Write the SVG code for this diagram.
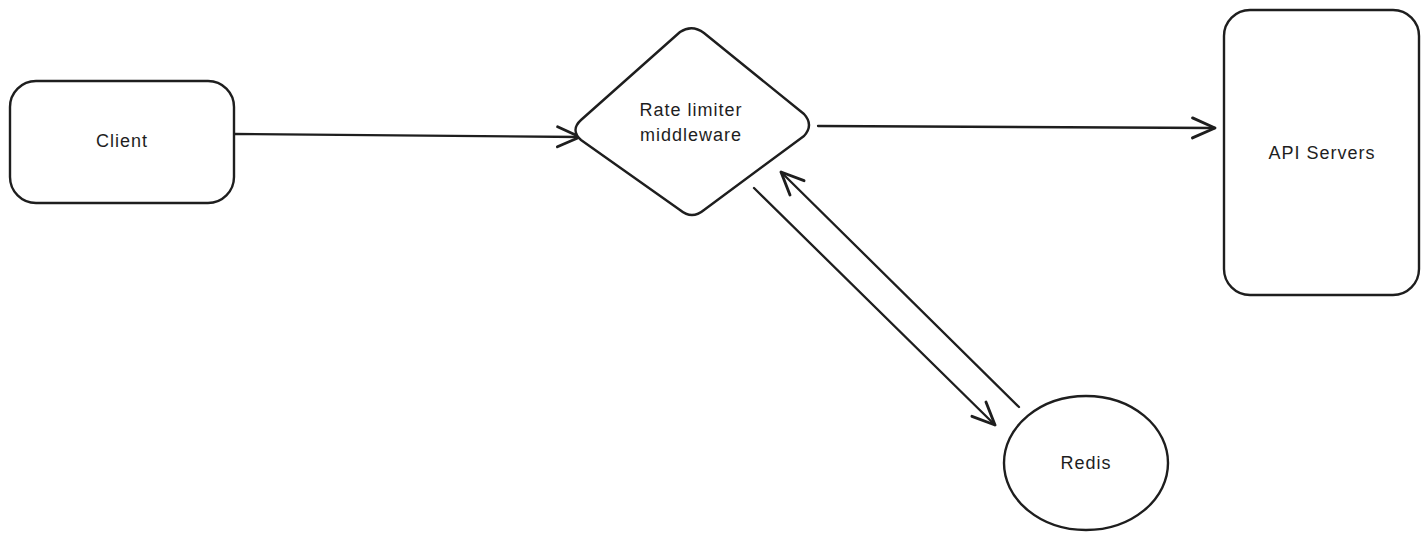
<svg xmlns="http://www.w3.org/2000/svg" width="1428" height="540" viewBox="0 0 1428 540">
<style>
.shape{fill:#ffffff;stroke:#1e1e1e;stroke-width:2.4;stroke-linejoin:round}
.conn{fill:none;stroke:#1e1e1e;stroke-width:2.3;stroke-linecap:round}
.lbl{font-family:"Liberation Sans","Open Sans",sans-serif;font-size:18px;letter-spacing:1px;fill:#1e1e1e;text-anchor:middle;dominant-baseline:central}
</style>
<defs>
<marker id="arrow" markerUnits="userSpaceOnUse" markerWidth="30" markerHeight="30" refX="0" refY="0" viewBox="-20 -12 24 24" orient="auto" overflow="visible">
<path d="M-18,-8 L0,0 L-18,8" fill="none" stroke="#1e1e1e" stroke-width="2.3" stroke-linecap="round" stroke-linejoin="round"/>
</marker>
</defs>
<rect width="1428" height="540" fill="#ffffff"/>
<g id="connectors">
<path class="conn" d="M234,134 L580,137" marker-end="url(#arrow)"/>
<path class="conn" d="M818,126 L1215,128" marker-end="url(#arrow)"/>
<path class="conn" d="M754,188 L995,425" marker-end="url(#arrow)"/>
<path class="conn" d="M1019,407 L781,172" marker-end="url(#arrow)"/>
</g>
<g id="client">
<rect class="shape" x="10" y="81" width="224" height="122" rx="26"/>
<text class="lbl" x="122" y="141">Client</text>
</g>
<g id="rate-limiter">
<path class="shape" d="M680,32 Q692,24 704,33 L804,114 Q814,125 804,136 L704,210 Q692,220 680,210 L581,140 Q570,130 581,120 Z"/>
<text class="lbl" x="691" y="110">Rate limiter</text>
<text class="lbl" x="691" y="135">middleware</text>
</g>
<g id="api-servers">
<rect class="shape" x="1224" y="10" width="195" height="285" rx="26"/>
<text class="lbl" x="1322" y="153">API Servers</text>
</g>
<g id="redis">
<ellipse class="shape" cx="1086" cy="463" rx="82" ry="67"/>
<text class="lbl" x="1086" y="463">Redis</text>
</g>
</svg>
